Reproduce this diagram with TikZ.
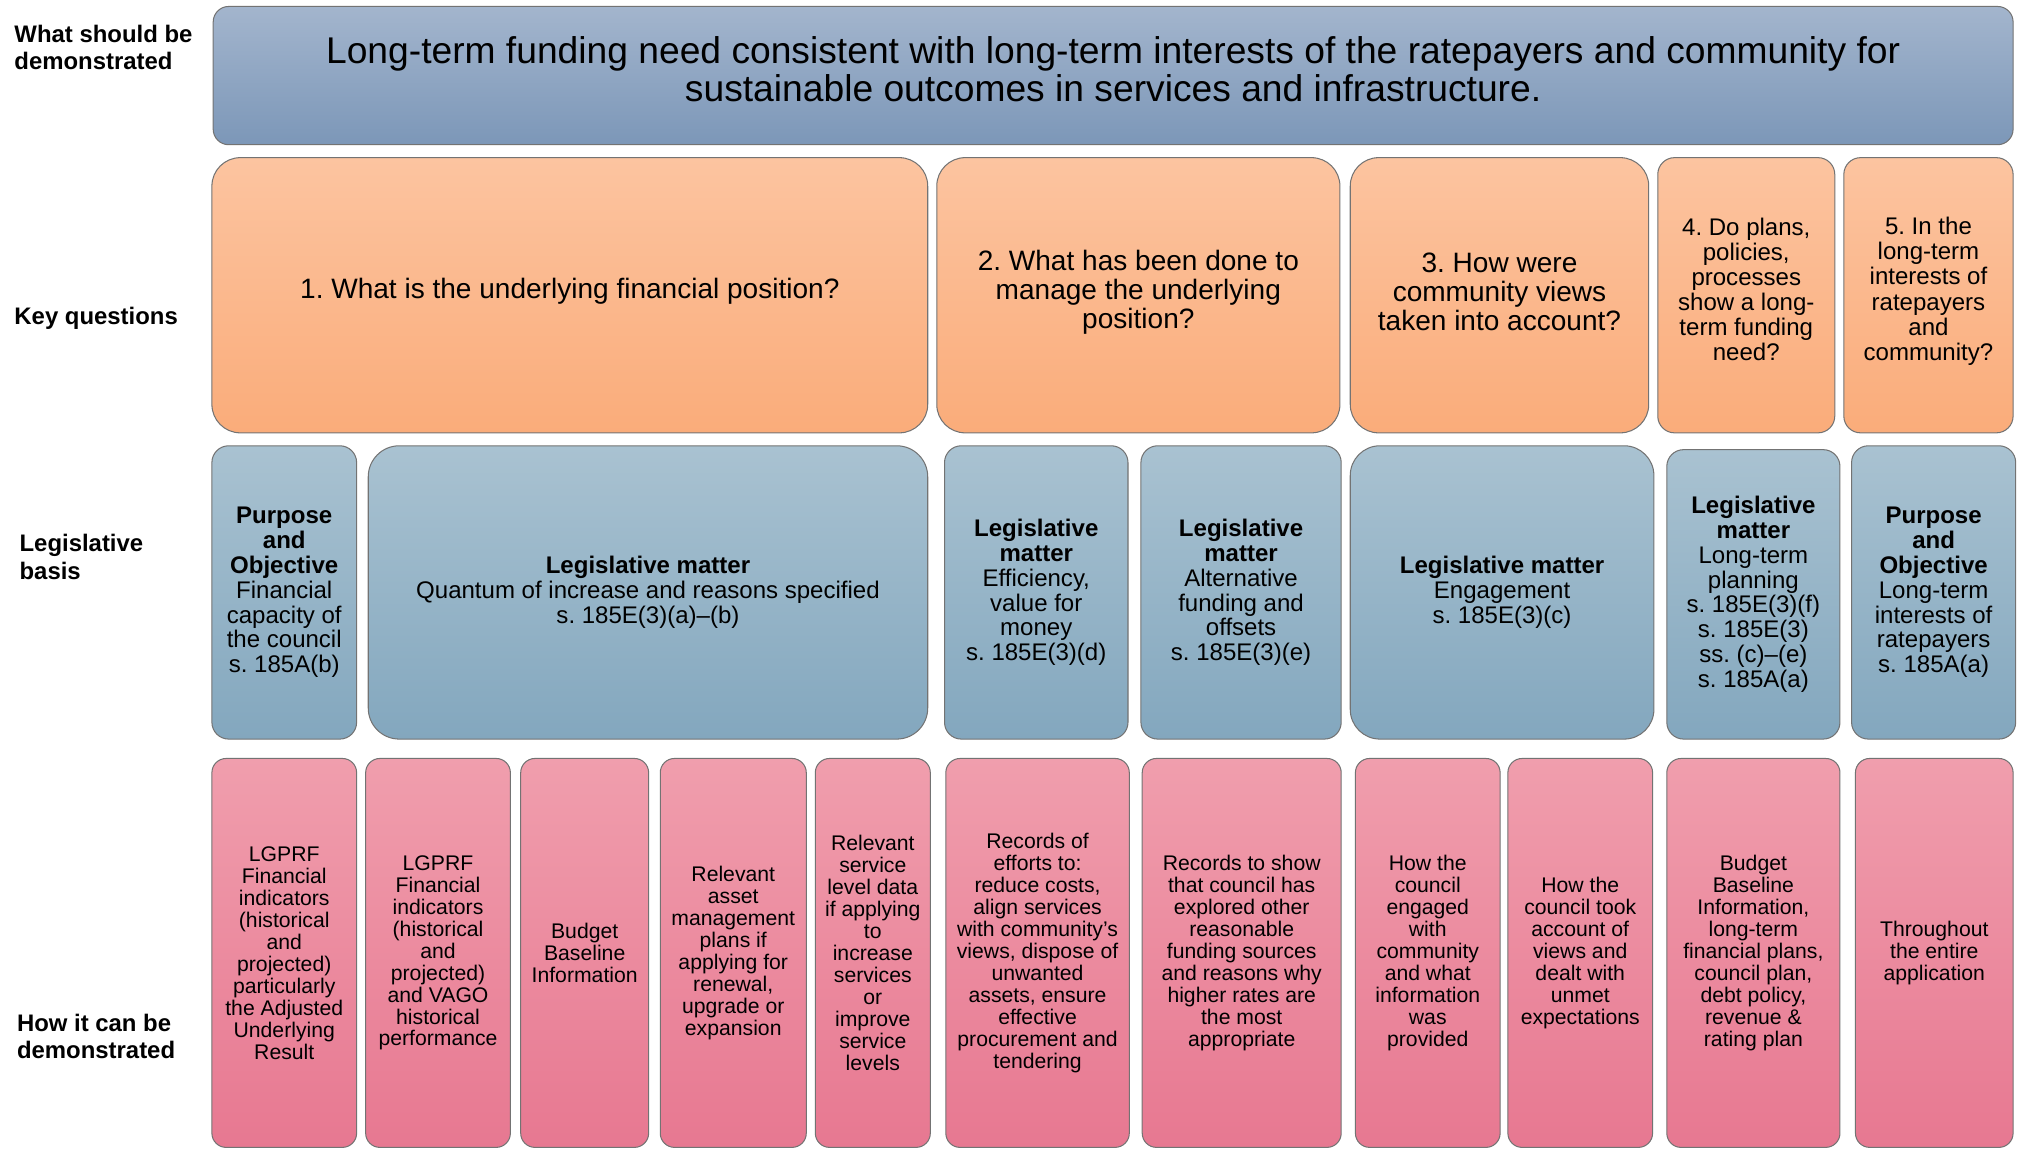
\documentclass[tikz,border=0pt]{standalone}
\usepackage{fontspec}
\setmainfont{Liberation Sans}
\frenchspacing
\definecolor{topblueA}{RGB}{163,181,205}
\definecolor{topblueB}{RGB}{124,151,184}
\definecolor{orangeA}{RGB}{252,196,160}
\definecolor{orangeB}{RGB}{250,172,122}
\definecolor{legblueA}{RGB}{169,194,209}
\definecolor{legblueB}{RGB}{131,167,190}
\definecolor{pinkA}{RGB}{240,158,173}
\definecolor{pinkB}{RGB}{231,120,145}
\begin{document}
\begin{tikzpicture}[x=1pt, y=-1pt,
  box/.style={draw=black!55, line width=0.8pt, align=center, inner sep=2pt},
  topbox/.style={box, top color=topblueA, bottom color=topblueB, rounded corners=12pt, font=\fontsize{28.8}{30}\selectfont},
  qbox/.style={box, top color=orangeA, bottom color=orangeB, rounded corners=22pt, minimum height=213pt, font=\fontsize{21.7}{22.5}\selectfont},
  qsmall/.style={qbox, rounded corners=13pt, font=\fontsize{18.6}{19.4}\selectfont},
  legbox/.style={box, top color=legblueA, bottom color=legblueB, rounded corners=13pt, minimum height=227pt, font=\fontsize{18.6}{19.2}\selectfont},
  pinkbox/.style={box, top color=pinkA, bottom color=pinkB, rounded corners=11pt, minimum height=301pt, font=\fontsize{16.4}{17}\selectfont},
  rowlbl/.style={anchor=west, align=left, inner sep=0pt, font=\bfseries\fontsize{18.5}{21}\selectfont}]
\useasboundingbox (0,0) rectangle (1568,889);

% row labels
\node[rowlbl] (lwhat) at (11,37) {What should be\\demonstrated};
\node[rowlbl] (lkey) at (11,246) {Key questions};
\node[rowlbl] (llegis) at (15,431) {Legislative\\basis};
\node[rowlbl] (lhow) at (13,802) {How it can be\\demonstrated};

% what should be demonstrated
\node[topbox, minimum width=1393pt, minimum height=107pt, text depth=10pt] (need) at (861.5,58.5)
  {Long-term funding need consistent with long-term interests of the ratepayers and community for\\sustainable outcomes in services and infrastructure.};

% key questions
\node[qbox, minimum width=554pt, text depth=10.5pt] (q1) at (441,228.5) {1. What is the underlying financial position?};
\node[qbox, minimum width=312pt, text depth=8.5pt] (q2) at (881,228.5) {2. What has been done to\\manage the underlying\\position?};
\node[qbox, minimum width=231pt, text depth=6pt] (q3) at (1160.5,228.5) {3. How were\\community views\\taken into account?};
\node[qsmall, minimum width=137pt, text depth=9pt] (q4) at (1351.5,228.5) {4. Do plans,\\policies,\\processes\\show a long-\\term funding\\need?};
\node[qsmall, minimum width=131pt, text depth=10pt] (q5) at (1492.5,228.5) {5. In the\\long-term\\interests of\\ratepayers\\and\\community?};

% legislative basis
\node[legbox, minimum width=112pt] (leg1) at (220,458.5) {\textbf{Purpose}\\\textbf{and}\\\textbf{Objective}\\Financial\\capacity of\\the council\\s. 185A(b)};
\node[legbox, minimum width=433pt, rounded corners=24pt] (leg2) at (501.5,458.5) {\textbf{Legislative matter}\\Quantum of increase and reasons specified\\s. 185E(3)(a)–(b)};
\node[legbox, minimum width=142pt] (leg3) at (802,458.5) {\textbf{Legislative}\\\textbf{matter}\\Efficiency,\\value for\\money\\s. 185E(3)(d)};
\node[legbox, minimum width=155pt] (leg4) at (960.5,458.5) {\textbf{Legislative}\\\textbf{matter}\\Alternative\\funding and\\offsets\\s. 185E(3)(e)};
\node[legbox, minimum width=235pt, rounded corners=23pt] (leg5) at (1162.5,458.5) {\textbf{Legislative matter}\\Engagement\\s. 185E(3)(c)};
\node[legbox, minimum width=134pt, minimum height=224pt] (leg6) at (1357,460) {\textbf{Legislative}\\\textbf{matter}\\Long-term\\planning\\s. 185E(3)(f)\\s. 185E(3)\\ss. (c)–(e)\\s. 185A(a)};
\node[legbox, minimum width=127pt] (leg7) at (1496.5,458.5) {\textbf{Purpose}\\\textbf{and}\\\textbf{Objective}\\Long-term\\interests of\\ratepayers\\s. 185A(a)};

% how it can be demonstrated
\node[pinkbox, minimum width=112pt] (how1) at (220,737.5) {LGPRF\\Financial\\indicators\\(historical\\and\\projected)\\particularly\\the Adjusted\\Underlying\\Result};
\node[pinkbox, minimum width=112pt] (how2) at (339,737.5) {LGPRF\\Financial\\indicators\\(historical\\and\\projected)\\and VAGO\\historical\\performance};
\node[pinkbox, minimum width=99pt] (how3) at (452.5,737.5) {Budget\\Baseline\\Information};
\node[pinkbox, minimum width=113pt] (how4) at (567.5,737.5) {Relevant\\asset\\management\\plans if\\applying for\\renewal,\\upgrade or\\expansion};
\node[pinkbox, minimum width=89pt] (how5) at (675.5,737.5) {Relevant\\service\\level data\\if applying\\to\\increase\\services\\or\\improve\\service\\levels};
\node[pinkbox, minimum width=142pt] (how6) at (803,737.5) {Records of\\efforts to:\\reduce costs,\\align services\\with community’s\\views, dispose of\\unwanted\\assets, ensure\\effective\\procurement and\\tendering};
\node[pinkbox, minimum width=154pt] (how7) at (961,737.5) {Records to show\\that council has\\explored other\\reasonable\\funding sources\\and reasons why\\higher rates are\\the most\\appropriate};
\node[pinkbox, minimum width=112pt] (how8) at (1105,737.5) {How the\\council\\engaged\\with\\community\\and what\\information\\was\\provided};
\node[pinkbox, minimum width=112pt] (how9) at (1223,737.5) {How the\\council took\\account of\\views and\\dealt with\\unmet\\expectations};
\node[pinkbox, minimum width=134pt] (how10) at (1357,737.5) {Budget\\Baseline\\Information,\\long-term\\financial plans,\\council plan,\\debt policy,\\revenue \&\\rating plan};
\node[pinkbox, minimum width=122pt] (how11) at (1497,737.5) {Throughout\\the entire\\application};
\end{tikzpicture}
\end{document}
